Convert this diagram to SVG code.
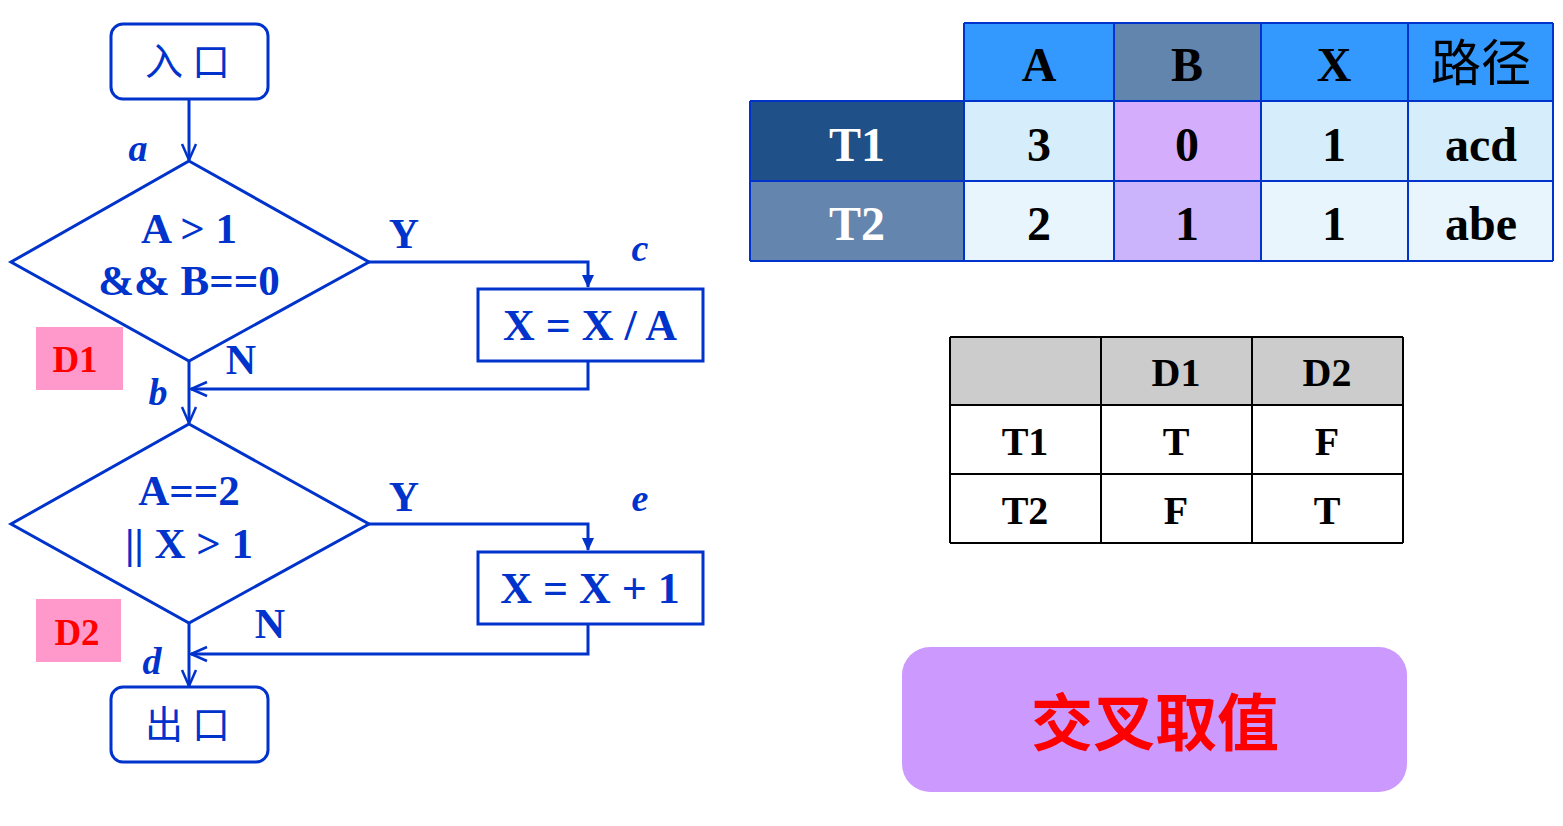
<svg xmlns="http://www.w3.org/2000/svg" width="1563" height="826" viewBox="0 0 1563 826">
<defs>
<marker id="open" viewBox="0 0 20 20" refX="18" refY="10" markerWidth="20" markerHeight="20" markerUnits="userSpaceOnUse" orient="auto">
<path d="M2,3 L18,10 L2,17" fill="none" stroke="#0033CC" stroke-width="2.5"/>
</marker>
<marker id="fill" viewBox="0 0 14 14" refX="12" refY="7" markerWidth="14" markerHeight="14" markerUnits="userSpaceOnUse" orient="auto">
<path d="M0,1 L13,7 L0,13 Z" fill="#0033CC"/>
</marker>
</defs>
<style>
.shape{fill:#fff;stroke:#0033CC;stroke-width:3}
.conn{fill:none;stroke:#0033CC;stroke-width:3}
.bt{font-family:"Liberation Serif","Times New Roman",serif;font-weight:bold;fill:#0033CC;text-anchor:middle}
.it{font-family:"Liberation Serif","Times New Roman",serif;font-weight:bold;font-style:italic;fill:#0033CC;text-anchor:middle;font-size:38px}
.cjk{font-family:"Noto Sans CJK SC",sans-serif;fill:#0033CC;text-anchor:middle;font-size:38px}
.tb{font-family:"Liberation Serif","Times New Roman",serif;font-weight:bold;fill:#000;text-anchor:middle;font-size:48px}
.tw{font-family:"Liberation Serif","Times New Roman",serif;font-weight:bold;fill:#fff;text-anchor:middle;font-size:48px}
.t2{font-family:"Liberation Serif","Times New Roman",serif;font-weight:bold;fill:#000;text-anchor:middle;font-size:40px}
.c1{stroke:#0033CC;stroke-width:2}
.c2{stroke:#000;stroke-width:2}
</style>
<rect width="1563" height="826" fill="#fff"/>

<g id="connectors">
<path class="conn" d="M189,99 V160" marker-end="url(#open)"/>
<path class="conn" d="M369,262 H588 V287" marker-end="url(#fill)"/>
<path class="conn" d="M588,361 V389 H191" marker-end="url(#open)"/>
<path class="conn" d="M189,361 V423" marker-end="url(#open)"/>
<path class="conn" d="M369,524 H588 V550" marker-end="url(#fill)"/>
<path class="conn" d="M588,624 V654 H191" marker-end="url(#open)"/>
<path class="conn" d="M189,623 V686" marker-end="url(#open)"/>
<text class="bt" x="404" y="248" font-size="42">Y</text>
<text class="bt" x="241" y="374" font-size="42">N</text>
<text class="bt" x="404" y="511" font-size="42">Y</text>
<text class="bt" x="270" y="638" font-size="42">N</text>
<text class="it" x="138" y="161">a</text>
<text class="it" x="158" y="405">b</text>
<text class="it" x="640" y="261">c</text>
<text class="it" x="152" y="674">d</text>
<text class="it" x="640" y="511">e</text>
</g>

<g id="entry">
<rect class="shape" x="111" y="24" width="157" height="75" rx="12"/>
<text class="cjk" x="192" y="75" letter-spacing="9">入口</text>
</g>

<g id="d1">
<polygon class="shape" points="189,161 369,262 189,361 11,262"/>
<text class="bt" x="189" y="243" font-size="43">A &gt; 1</text>
<text class="bt" x="189" y="295" font-size="43">&amp;&amp; B==0</text>
</g>

<g id="d1label">
<rect x="36" y="327" width="87" height="63" fill="#FF99CC"/>
<text class="bt" x="75" y="372" font-size="37" style="fill:#FF0000">D1</text>
</g>

<g id="boxc">
<rect class="shape" x="478" y="289" width="225" height="72"/>
<text class="bt" x="590" y="340" font-size="44">X = X / A</text>
</g>

<g id="d2">
<polygon class="shape" points="189,424 369,524 189,623 11,524"/>
<text class="bt" x="189" y="505" font-size="43">A==2</text>
<text class="bt" x="189" y="558" font-size="43">|| X &gt; 1</text>
</g>

<g id="d2label">
<rect x="36" y="599" width="85" height="63" fill="#FF99CC"/>
<text class="bt" x="77" y="645" font-size="37" style="fill:#FF0000">D2</text>
</g>

<g id="boxe">
<rect class="shape" x="478" y="552" width="225" height="72"/>
<text class="bt" x="590" y="603" font-size="44">X = X + 1</text>
</g>

<g id="exit">
<rect class="shape" x="111" y="687" width="157" height="75" rx="12"/>
<text class="cjk" x="192" y="738" letter-spacing="9">出口</text>
</g>

<g id="table1">
<rect x="964" y="23" width="150" height="78" fill="#3399FF"/>
<rect x="1114" y="23" width="147" height="78" fill="#6185AD"/>
<rect x="1261" y="23" width="147" height="78" fill="#3399FF"/>
<rect x="1408" y="23" width="145" height="78" fill="#3399FF"/>
<rect x="750" y="101" width="214" height="80" fill="#1F5088"/>
<rect x="750" y="181" width="214" height="80" fill="#6385AE"/>
<rect x="964" y="101" width="589" height="80" fill="#D6EEFC"/>
<rect x="964" y="181" width="589" height="80" fill="#E8F5FD"/>
<rect x="1114" y="101" width="147" height="80" fill="#D5ADFD"/>
<rect x="1114" y="181" width="147" height="80" fill="#CBB4FB"/>
<g class="c1">
<line x1="964" y1="23" x2="1553" y2="23"/>
<line x1="750" y1="101" x2="1553" y2="101"/>
<line x1="750" y1="181" x2="1553" y2="181"/>
<line x1="750" y1="261" x2="1553" y2="261"/>
<line x1="750" y1="101" x2="750" y2="261"/>
<line x1="964" y1="23" x2="964" y2="261"/>
<line x1="1114" y1="23" x2="1114" y2="261"/>
<line x1="1261" y1="23" x2="1261" y2="261"/>
<line x1="1408" y1="23" x2="1408" y2="261"/>
<line x1="1553" y1="23" x2="1553" y2="261"/>
</g>
<text class="tb" x="1039" y="81">A</text>
<text class="tb" x="1187" y="81">B</text>
<text class="tb" x="1334" y="81">X</text>
<text x="1481" y="81" font-family="Noto Sans CJK SC,sans-serif" font-size="50" text-anchor="middle" fill="#000">路径</text>
<text class="tw" x="857" y="161">T1</text>
<text class="tw" x="857" y="240">T2</text>
<text class="tb" x="1039" y="161">3</text>
<text class="tb" x="1187" y="161">0</text>
<text class="tb" x="1334" y="161">1</text>
<text class="tb" x="1481" y="161">acd</text>
<text class="tb" x="1039" y="240">2</text>
<text class="tb" x="1187" y="240">1</text>
<text class="tb" x="1334" y="240">1</text>
<text class="tb" x="1481" y="240">abe</text>
</g>

<g id="table2">
<rect x="950" y="337" width="453" height="68" fill="#CCCCCC"/>
<rect x="950" y="405" width="453" height="138" fill="#fff"/>
<g class="c2">
<line x1="950" y1="337" x2="1403" y2="337"/>
<line x1="950" y1="405" x2="1403" y2="405"/>
<line x1="950" y1="474" x2="1403" y2="474"/>
<line x1="950" y1="543" x2="1403" y2="543"/>
<line x1="950" y1="337" x2="950" y2="543"/>
<line x1="1101" y1="337" x2="1101" y2="543"/>
<line x1="1252" y1="337" x2="1252" y2="543"/>
<line x1="1403" y1="337" x2="1403" y2="543"/>
</g>
<text class="t2" x="1176" y="386">D1</text>
<text class="t2" x="1327" y="386">D2</text>
<text class="t2" x="1025" y="455">T1</text>
<text class="t2" x="1176" y="455">T</text>
<text class="t2" x="1327" y="455">F</text>
<text class="t2" x="1025" y="524">T2</text>
<text class="t2" x="1176" y="524">F</text>
<text class="t2" x="1327" y="524">T</text>
</g>

<g id="note">
<rect x="902" y="647" width="505" height="145" rx="28" fill="#CC99FF"/>
<text x="1155" y="746" font-family="Noto Sans CJK SC,sans-serif" font-weight="bold" font-size="62" text-anchor="middle" fill="#FF0000">交叉取值</text>
</g>
</svg>
